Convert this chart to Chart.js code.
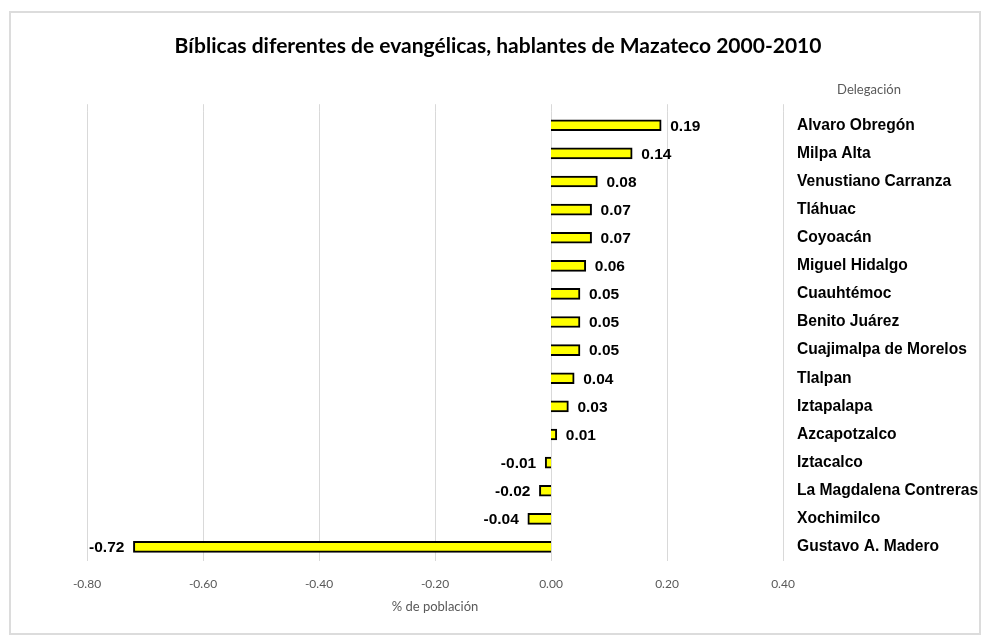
<!DOCTYPE html>
<html><head><meta charset="utf-8">
<script src="https://cdn.jsdelivr.net/npm/chart.js@4"></script>
<style>
html,body{margin:0;padding:0;background:#fff;}
#wrap{position:relative;width:983px;height:637px;overflow:hidden;}
#frame{position:absolute;left:9px;top:11px;width:968px;height:620px;border:2px solid #dcdcdc;pointer-events:none;}
canvas{position:absolute;left:0;top:0;}
</style></head><body>
<div id="wrap"><canvas id="c" width="983" height="637"></canvas><div id="frame"></div></div>
<script>
const titleText = 'Bíblicas diferentes de evangélicas, hablantes de Mazateco 2000-2010';
const categoryTitle = 'Delegación';
const axisTitle = '% de población';
const categories = ['Alvaro Obregón','Milpa Alta','Venustiano Carranza','Tláhuac','Coyoacán','Miguel Hidalgo','Cuauhtémoc','Benito Juárez','Cuajimalpa de Morelos','Tlalpan','Iztapalapa','Azcapotzalco','Iztacalco','La Magdalena Contreras','Xochimilco','Gustavo A. Madero'];
const values = [0.19,0.14,0.08,0.07,0.07,0.06,0.05,0.05,0.05,0.04,0.03,0.01,-0.01,-0.02,-0.04,-0.72];
const xMin = -0.8, xMax = 0.4, xStep = 0.2;

const labelPlugin = {
  id: 'valueLabels',
  beforeDatasetsDraw(chart) {
    const ctx = chart.ctx, xs = chart.scales.x, top = chart.chartArea.top;
    ctx.save();
    ctx.strokeStyle = '#d9d9d9';
    ctx.lineWidth = 1;
    xs.ticks.forEach((t, i) => {
      const px = Math.round(xs.getPixelForTick(i)) + 0.5;
      ctx.beginPath(); ctx.moveTo(px, top - 7); ctx.lineTo(px, top); ctx.stroke();
    });
    ctx.restore();
  },
  afterDatasetsDraw(chart) {
    const ctx = chart.ctx;
    const meta = chart.getDatasetMeta(0);
    ctx.save();
    ctx.font = 'bold 15.5px "Liberation Sans", Arial, sans-serif';
    ctx.fillStyle = '#000';
    ctx.textBaseline = 'middle';
    meta.data.forEach((bar, i) => {
      const v = values[i];
      if (v >= 0) { ctx.textAlign = 'left'; ctx.fillText(v.toFixed(2), bar.x + 9, bar.y + 1); }
      else { ctx.textAlign = 'right'; ctx.fillText(v.toFixed(2), bar.x - 9, bar.y + 1); }
    });
    ctx.font = '13px Lato, sans-serif';
    ctx.fillStyle = '#595959';
    ctx.textAlign = 'center';
    ctx.fillText(categoryTitle, 869, 90);
    ctx.restore();
  }
};

new Chart(document.getElementById('c'), {
  type: 'bar',
  data: {
    labels: categories,
    datasets: [{
      data: values,
      backgroundColor: '#FFFF00',
      borderColor: '#000000',
      borderWidth: 2,
      barThickness: 11
    }]
  },
  options: {
    indexAxis: 'y',
    responsive: false,
    animation: false,
    layout: { padding: { left: 13, right: 0, top: 0, bottom: 0 } },
    plugins: {
      legend: { display: false },
      tooltip: { enabled: false },
      title: {
        display: true,
        text: titleText,
        color: '#000',
        font: { family: 'Lato', size: 21, weight: 'bold' },
        padding: { top: 34, bottom: 52 }
      }
    },
    scales: {
      x: {
        type: 'linear',
        min: xMin, max: xMax,
        grid: { color: '#d9d9d9', lineWidth: 1, drawTicks: false },
        border: { display: false },
        ticks: {
          stepSize: xStep,
          padding: 16,
          color: '#595959',
          font: { family: 'Lato', size: 12 },
          callback: v => (Math.abs(v) < 1e-9 ? 0 : v).toFixed(2)
        },
        title: {
          display: true, text: axisTitle, color: '#595959',
          font: { family: 'Lato', size: 13 },
          padding: { top: 0, bottom: 22 }
        },
        afterFit: s => { s.height = 76; }
      },
      yl: {
        type: 'category',
        position: 'left',
        grid: { display: false },
        border: { display: false },
        ticks: { display: false },
        afterFit: s => { s.width = 74; }
      },
      y: {
        position: 'right',
        grid: { display: false },
        border: { display: false },
        ticks: {
          padding: 6,
          color: '#000',
          font: { family: '"Liberation Sans", Arial, sans-serif', size: 15.6, weight: 'bold' }
        },
        afterFit: s => { s.width = 200; }
      }
    }
  },
  plugins: [labelPlugin]
});
</script>
</body></html>
